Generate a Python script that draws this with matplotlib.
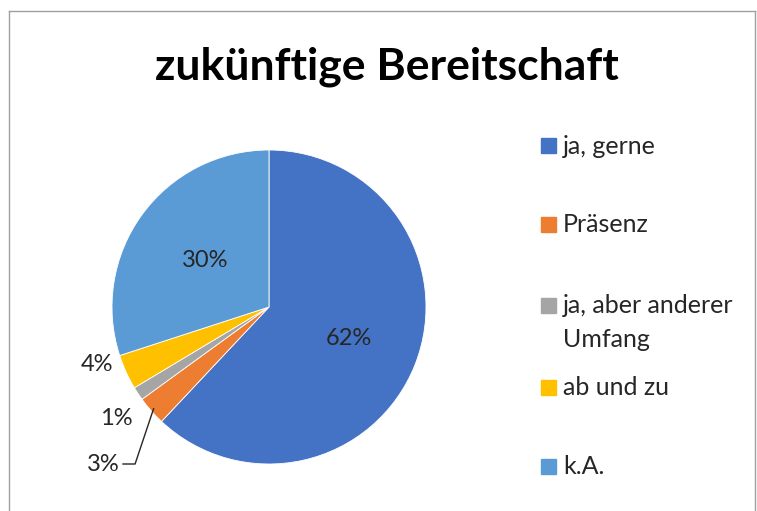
import matplotlib
matplotlib.use("Agg")
import matplotlib.pyplot as plt
import numpy as np
from matplotlib.lines import Line2D
from matplotlib.patches import Rectangle

plt.rcParams["font.family"] = ["Lato", "DejaVu Sans"]

# data
labels = ["ja, gerne", "Präsenz", "ja, aber anderer\nUmfang", "ab und zu", "k.A."]
shares = [62, 3, 1.4, 3.6, 30]
pct_text = ["62%", "3%", "1%", "4%", "30%"]
colors = ["#4472C4", "#ED7D31", "#A5A5A5", "#FFC000", "#5B9BD5"]

W, H = 757, 511
TXT = "#262626"
fig = plt.figure(figsize=(W / 100, H / 100), dpi=100)

# pie centre (269, 307) px, radius 157 px
cx, cy, r = 269, 307, 157
ax = fig.add_axes([(cx - r) / W, (H - cy - r) / H, 2 * r / W, 2 * r / H])
wedges, _ = ax.pie(shares, colors=colors, startangle=90, counterclock=False,
                   radius=1, wedgeprops=dict(edgecolor="white", linewidth=0.6))
ax.set_xlim(-1, 1)
ax.set_ylim(-1, 1)
ax.set_aspect("equal")
ax.axis("off")


def mid(w):
    return np.deg2rad((w.theta1 + w.theta2) / 2)


# inside labels
for i, dist in [(0, 0.55), (4, 0.5)]:
    a = mid(wedges[i])
    ax.text(dist * np.cos(a), dist * np.sin(a), pct_text[i], ha="center",
            va="center", fontsize=17, color=TXT, clip_on=False)

# outside labels for the small slices (right-aligned, like Excel "best fit")
ax.text(-0.99, -0.365, pct_text[3], ha="right", va="center", fontsize=17,
        color=TXT, clip_on=False)
ax.text(-0.87, -0.71, pct_text[2], ha="right", va="center", fontsize=17,
        color=TXT, clip_on=False)

# 3% with leader line
a = mid(wedges[1])
p0 = (0.98 * np.cos(a), 0.98 * np.sin(a))
ax.plot([p0[0], -0.853, -0.93], [p0[1], -1.0, -1.0], color=TXT,
        lw=1.0, clip_on=False)
ax.text(-0.95, -1.0, pct_text[1], ha="right", va="center", fontsize=17,
        color=TXT, clip_on=False)

# title
fig.text(387 / W, 1 - 67 / H, "zukünftige Bereitschaft", ha="center",
         va="center", fontsize=32, fontweight="bold", color="black")

# legend, placed like the Office original
leg_y = [146, 225, 305, 387, 466]
for lab, col, y in zip(labels, colors, leg_y):
    fig.patches.append(Rectangle((541 / W, 1 - (y + 7.5) / H), 15 / W, 15 / H,
                                 transform=fig.transFigure, color=col))
    lines = lab.split("\n")
    for k, line in enumerate(lines):
        fig.text(563 / W, 1 - (y + 34 * k) / H, line, ha="left", va="center",
                 fontsize=18, color=TXT)

# chart-area border (bottom is cut off in the reference)
bc = "#A0A0A0"
fig.add_artist(Line2D([8.5 / W, 8.5 / W], [0, 1 - 11.5 / H], color=bc, lw=1,
                      transform=fig.transFigure))
fig.add_artist(Line2D([8.5 / W, 754.5 / W], [1 - 11.5 / H, 1 - 11.5 / H],
                      color=bc, lw=1, transform=fig.transFigure))
fig.add_artist(Line2D([754.5 / W, 754.5 / W], [0, 1 - 11.5 / H], color=bc,
                      lw=1, transform=fig.transFigure))

fig.savefig("out.png", dpi=100)
